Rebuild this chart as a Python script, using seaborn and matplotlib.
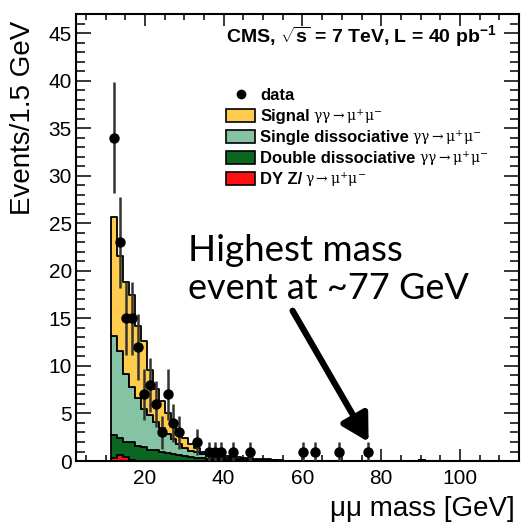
import numpy as np
import pandas as pd
import matplotlib
matplotlib.use("Agg")
import matplotlib.pyplot as plt
import seaborn as sns
from matplotlib.patches import Patch
from matplotlib.lines import Line2D
from matplotlib.ticker import MultipleLocator

# ---------------- data ----------------
mass_centers = [12.25, 13.75, 15.25, 16.75, 18.25, 19.75, 21.25, 22.75, 24.25, 25.75,
                27.25, 28.75, 30.25, 31.75, 33.25, 34.75, 36.25, 37.75, 39.25, 40.75,
                42.25, 43.75, 45.25, 46.75, 48.25, 49.75, 51.25, 52.75, 54.25, 55.75,
                88.75, 90.25, 91.75]
signal = [12.6, 10.0, 9.6, 9.7, 7.6, 7.1, 4.8, 3.5, 2.8, 2.2,
          1.7, 1.4, 1.0, 0.7, 0.5, 0.3, 0.15, 0.15, 0.18, 0.2,
          0.15, 0.2, 0.15, 0.2, 0.1, 0.1, 0.12, 0.09, 0.1, 0.02,
          0.0, 0.0, 0.0]
single_diss = [10.35, 9.2, 7.2, 5.8, 5.0, 4.0, 3.6, 2.95, 2.6, 1.95,
               1.6, 1.2, 0.9, 0.65, 0.55, 0.4, 0.25, 0.25, 0.15, 0.15,
               0.13, 0.1, 0.1, 0.07, 0.04, 0.05, 0.04, 0.03, 0.03, 0.02,
               0.0, 0.0, 0.0]
double_diss = [2.45, 1.8, 1.55, 1.92, 1.55, 1.45, 1.16, 1.11, 0.87, 0.82,
               0.67, 0.58, 0.48, 0.43, 0.33, 0.29, 0.24, 0.19, 0.19, 0.14,
               0.11, 0.09, 0.09, 0.07, 0.05, 0.04, 0.03, 0.02, 0.01, 0.01,
               0.0, 0.0, 0.0]
drell_yan = [0.3, 0.6, 0.45, 0.08, 0.05, 0.05, 0.04, 0.04, 0.03, 0.03,
             0.03, 0.02, 0.02, 0.02, 0.02, 0.01, 0.01, 0.01, 0.01, 0.01,
             0.01, 0.01, 0.01, 0.01, 0.01, 0.01, 0.01, 0.01, 0.01, 0.0,
             0.05, 0.12, 0.05]

data_mass = [12.25, 13.75, 15.25, 16.75, 18.25, 19.75, 21.25, 22.75, 24.25, 25.75,
             27.25, 28.75, 33.25, 36.25, 37.75, 39.25, 42.25, 46.75,
             60.25, 63.25, 69.25, 76.75]
data_counts = [34, 23, 15, 15, 12, 7, 8, 6, 3, 7,
               4, 3, 2, 1, 1, 1, 1, 1,
               1, 1, 1, 1]

processes = ["Signal", "Single", "Double", "DY"]
colors = {"Signal": "#ffcc4d", "Single": "#86c2a4", "Double": "#0b6622", "DY": "#ff1010"}

# ---------------- style ----------------
sns.set_theme(style="ticks")
plt.rcParams["font.family"] = ["Liberation Sans", "DejaVu Sans"]
plt.rcParams["mathtext.fontset"] = "custom"
plt.rcParams["mathtext.rm"] = "Liberation Sans"
plt.rcParams["mathtext.bf"] = "Liberation Sans:bold"
plt.rcParams["text.color"] = "black"
plt.rcParams["axes.labelcolor"] = "black"

fig = plt.figure(figsize=(5.22, 5.23), dpi=100)
ax = fig.add_axes([0.1456, 0.1185, 0.8487, 0.8547])

frames = []
for name, vals in zip(processes, [signal, single_diss, double_diss, drell_yan]):
    frames.append(pd.DataFrame({"mass": mass_centers, "events": vals, "process": name}))
df = pd.concat(frames, ignore_index=True)

sns.histplot(data=df, x="mass", weights="events", hue="process", hue_order=processes,
             multiple="stack", element="step", binwidth=1.5, binrange=(11.5, 115.0),
             palette=colors, edgecolor="black", linewidth=1.3, alpha=1,
             legend=False, ax=ax)

counts = np.array(data_counts, dtype=float)
ax.errorbar(data_mass, counts, yerr=np.sqrt(counts), fmt="o", color="black",
            ms=6.5, ecolor="#333333", elinewidth=1.8, capsize=0, zorder=6)

ax.set_xlim(2.5, 115)
ax.set_ylim(0, 47)
ax.xaxis.set_major_locator(MultipleLocator(20))
ax.xaxis.set_minor_locator(MultipleLocator(5))
ax.yaxis.set_major_locator(MultipleLocator(5))
ax.yaxis.set_minor_locator(MultipleLocator(1))
ax.tick_params(which="both", direction="in", top=True, right=True, width=1.1,
               colors="black", labelcolor="black", labelsize=15)
ax.tick_params(axis="x", which="major", length=8.8, pad=6)
ax.tick_params(axis="x", which="minor", length=4.5)
ax.tick_params(axis="y", which="major", length=10.5, pad=3)
ax.tick_params(axis="y", which="minor", length=6.3)
for s in ax.spines.values():
    s.set_linewidth(1.5)
    s.set_color("black")

ax.set_xlabel("μμ mass [GeV]", fontsize=20, loc="right", color="black")
ax.set_ylabel("Events/1.5 GeV", fontsize=20, loc="top", color="black")
ax.xaxis.set_label_coords(0.991, -0.078)
ax.yaxis.set_label_coords(-0.09, 0.985)

# CMS label
ax.text(0.339, 0.935, r"CMS, $\mathbf{\sqrt{s}}$ = 7 TeV, L = 40 pb$^{\mathbf{-1}}$",
        transform=ax.transAxes, fontsize=14, fontweight="bold", ha="left", va="baseline")

# legend
handles = [Line2D([], [], marker="o", color="black", ls="none", ms=6)]
for p in processes:
    handles.append(Patch(facecolor=colors[p], edgecolor="black", linewidth=1.2))
labels = ["data", "Signal", "Single dissociative", "Double dissociative", "DY Z/"]
leg = ax.legend(handles, labels, loc="upper left", bbox_to_anchor=(0.339, 0.835),
                frameon=False, borderpad=0, borderaxespad=0, handlelength=1.75,
                handleheight=0.8, handletextpad=0.3, labelspacing=0.35,
                prop={"weight": "bold", "size": 12})
suffixes = [None, r"$\mathrm{\gamma\gamma\rightarrow\mu^{+}\mu^{-}}$",
            r"$\mathrm{\gamma\gamma\rightarrow\mu^{+}\mu^{-}}$",
            r"$\mathrm{\gamma\gamma\rightarrow\mu^{+}\mu^{-}}$",
            r"$\mathrm{\gamma\rightarrow\mu^{+}\mu^{-}}$"]
fig.canvas.draw()
for txt, sfx in zip(leg.get_texts(), suffixes):
    if sfx:
        ax.annotate(sfx, xy=(1, 0.2), xycoords=txt, xytext=(2, 0),
                    textcoords="offset points", va="baseline", ha="left",
                    fontsize=10, math_fontfamily="dejavuserif")

# annotation
ax.text(30.9, 21.0, "Highest mass", fontsize=26.5, family=["Lato"], ha="left", va="baseline")
ax.text(30.9, 17.0, "event at ~77 GeV", fontsize=26, family=["Lato"], ha="left", va="baseline")
ax.annotate("", xy=(76.8, 2.0), xytext=(57.5, 15.8),
            arrowprops=dict(arrowstyle="-|>,head_length=0.8,head_width=0.45",
                            mutation_scale=20, lw=4.5, color="black",
                            shrinkA=0, shrinkB=0))

fig.savefig("out.png", dpi=100)
